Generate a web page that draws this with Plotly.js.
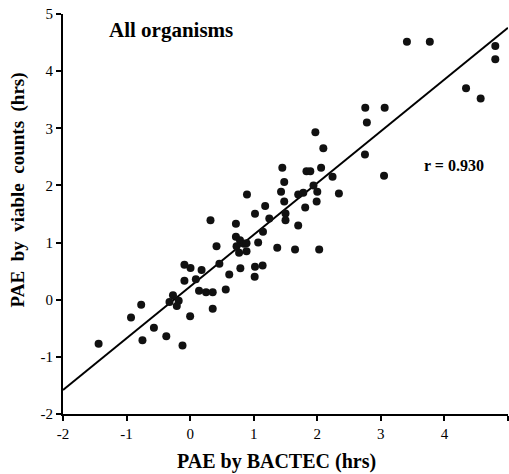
<!DOCTYPE html>
<html>
<head>
<meta charset="utf-8">
<script src="https://cdn.plot.ly/plotly-3.0.1.min.js"></script>
<style>html,body{margin:0;padding:0;background:#fff;}#chart{width:509px;height:474px;}</style>
</head>
<body>
<div id="chart"></div>
<script>
// PAE by BACTEC (hrs)
const bactecX = [
  -1.44, -0.93, -0.77, -0.75, -0.57, -0.375, -0.12, 0.0,
  -0.27, -0.325, -0.18, -0.21,
  -0.09, 0.006, 0.18, -0.09, 0.09,
  0.14, 0.25, 0.355,
  0.355, 0.46, 0.615, 0.56, 0.79,
  0.32, 0.415, 0.72,
  0.72, 0.784, 0.847, 0.887, 0.73, 0.887, 0.77,
  0.894, 1.02, 1.18, 1.245, 1.146, 1.07, 1.02, 1.14, 1.015, 1.37,
  1.48, 1.43, 1.48, 1.50, 1.50, 1.45, 1.65, 1.70, 1.70, 1.78,
  1.81, 1.94, 2.00, 1.99, 2.03,
  1.83, 1.89,
  2.06, 2.24, 2.34, 1.97, 2.095, 2.755, 3.06, 2.78, 2.75, 3.05,
  3.41, 3.77, 4.80, 4.80, 4.34, 4.57
];
// PAE by viable counts (hrs)
const viableY = [
  -0.77, -0.31, -0.09, -0.71, -0.49, -0.64, -0.80, -0.29,
  0.08, -0.04, -0.02, -0.11,
  0.61, 0.555, 0.52, 0.33, 0.36,
  0.155, 0.13, 0.13,
  -0.16, 0.63, 0.44, 0.18, 0.55,
  1.39, 0.935, 1.33,
  1.10, 1.04, 0.98, 0.99, 0.935, 0.85, 0.82,
  1.84, 1.505, 1.64, 1.42, 1.19, 1.0, 0.575, 0.60, 0.40, 0.91,
  2.06, 1.89, 1.72, 1.51, 1.39, 2.31, 0.88, 1.30, 1.84, 1.87,
  1.615, 2.00, 1.89, 1.72, 0.88,
  2.25, 2.25,
  2.31, 2.15, 1.86, 2.93, 2.65, 3.36, 3.36, 3.10, 2.54, 2.17,
  4.515, 4.515, 4.44, 4.21, 3.70, 3.52
];
// Regression line end points
const fitX = [-2, 5];
const fitY = [-1.58, 4.76];
const xTicks = [-2, -1, 0, 1, 2, 3, 4, 5];
const yTicks = [-2, -1, 0, 1, 2, 3, 4, 5];
const xTitle = 'PAE by BACTEC (hrs)';
const yTitle = 'PAE&nbsp; by&nbsp; viable&nbsp; counts&nbsp; (hrs)';

const serif = 'Liberation Serif, Times New Roman, serif';

const traces = [
  {
    x: fitX, y: fitY, mode: 'lines', type: 'scatter',
    line: {color: '#000', width: 2}, hoverinfo: 'skip', showlegend: false
  },
  {
    x: bactecX, y: viableY, mode: 'markers', type: 'scatter',
    marker: {color: '#111', size: 8, line: {width: 0}}, showlegend: false
  }
];

const layout = {
  width: 509, height: 474,
  margin: {l: 63, r: 1, t: 14, b: 60},
  paper_bgcolor: '#fff', plot_bgcolor: '#fff',
  showlegend: false,
  font: {family: serif, color: '#000', size: 15},
  xaxis: {
    range: [-2, 5], tickvals: xTicks, ticktext: xTicks.map(String),
    showgrid: false, zeroline: false, showline: true, linecolor: '#000', linewidth: 2,
    ticks: 'outside', ticklen: 5, tickwidth: 2, tickcolor: '#000',
    tickfont: {family: serif, size: 15, color: '#000'},
    automargin: false, fixedrange: true
  },
  yaxis: {
    range: [-2, 5], tickvals: yTicks, ticktext: yTicks.map(String),
    showgrid: false, zeroline: false, showline: true, linecolor: '#000', linewidth: 2,
    ticks: 'outside', ticklen: 5, tickwidth: 2, tickcolor: '#000',
    tickfont: {family: serif, size: 15, color: '#000'},
    automargin: false, fixedrange: true
  },
  annotations: [
    {x: 0.479, y: -0.119, xref: 'paper', yref: 'paper', xanchor: 'center', yanchor: 'middle', showarrow: false,
     text: '<b>' + xTitle + '</b>', font: {family: serif, size: 20, color: '#000'}},
    {x: -0.101, y: 0.559, xref: 'paper', yref: 'paper', xanchor: 'center', yanchor: 'middle', showarrow: false,
     textangle: -90, text: '<b>' + yTitle + '</b>', font: {family: serif, size: 19, color: '#000'}},
    {x: -1.31, y: 4.72, xref: 'x', yref: 'y', xanchor: 'left', yanchor: 'middle', showarrow: false,
     text: '<b>All organisms</b>', font: {family: serif, size: 21, color: '#000'}},
    {x: 3.65, y: 2.35, xref: 'x', yref: 'y', xanchor: 'left', yanchor: 'middle', showarrow: false,
     text: '<b>r = 0.930</b>', font: {family: serif, size: 16, color: '#000'}}
  ]
};

Plotly.newPlot('chart', traces, layout, {displayModeBar: false, staticPlot: true});
</script>
</body>
</html>
